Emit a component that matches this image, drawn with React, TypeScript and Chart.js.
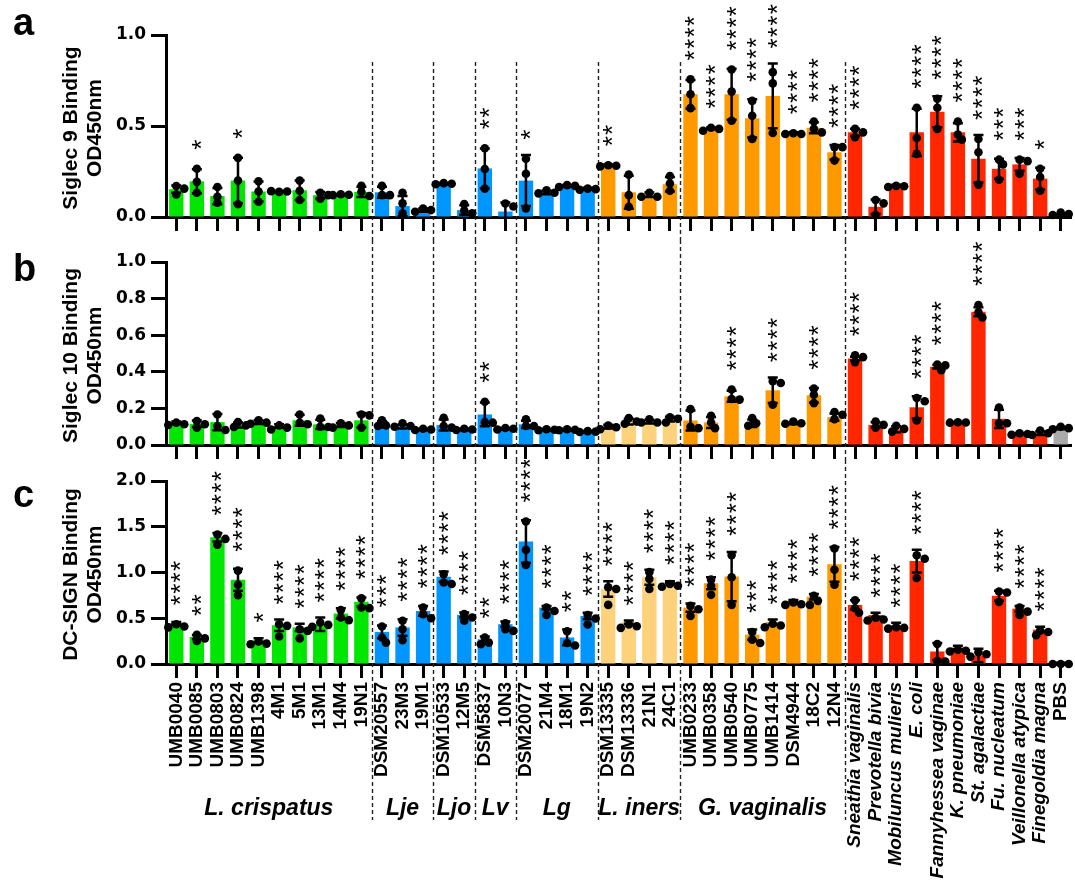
import React, { useEffect, useRef } from 'react';
import { Chart, registerables } from 'chart.js';

Chart.register(...registerables);

const FONT = '"Liberation Sans", Arial, Helvetica, sans-serif';
const TICK_FONT = '"DejaVu Sans", Verdana, sans-serif';

// ---------------- DATA ----------------
const categories = [
  'UMB0040', 'UMB0085', 'UMB0803', 'UMB0824', 'UMB1398', '4M1', '5M1', '13M1', '14M4', '19N1',
  'DSM20557', '23M3', '19M1',
  'DSM10533', '12M5',
  'DSM5837', '10N3',
  'DSM20077', '21M4', '18M1', '19N2',
  'DSM13335', 'DSM13336', '21N1', '24C1',
  'UMB0233', 'UMB0358', 'UMB0540', 'UMB0775', 'UMB1414', 'DSM4944', '18C2', '12N4',
  'Sneathia vaginalis', 'Prevotella bivia', 'Mobiluncus mulieris', 'E. coli', 'Fannyhessea vaginae',
  'K. pneumoniae', 'St. agalactiae', 'Fu. nucleatum', 'Veillonella atypica', 'Finegoldia magna', 'PBS',
];

const categoryGroup = [
  'crisp', 'crisp', 'crisp', 'crisp', 'crisp', 'crisp', 'crisp', 'crisp', 'crisp', 'crisp',
  'lje', 'lje', 'lje',
  'ljo', 'ljo',
  'lv', 'lv',
  'lg', 'lg', 'lg', 'lg',
  'iners', 'iners', 'iners', 'iners',
  'gv', 'gv', 'gv', 'gv', 'gv', 'gv', 'gv', 'gv',
  'other', 'other', 'other', 'other', 'other', 'other', 'other', 'other', 'other', 'other', 'pbs',
];

const groupLabels: Record<string, string> = {
  crisp: 'L. crispatus', lje: 'Lje', ljo: 'Ljo', lv: 'Lv', lg: 'Lg', iners: 'L. iners', gv: 'G. vaginalis',
};

// Panel a: Siglec 9
const siglec9Mean = [
  0.153, 0.196, 0.115, 0.2, 0.14, 0.14, 0.147, 0.12, 0.122, 0.138,
  0.136, 0.06, 0.038, 0.183, 0.038, 0.267, 0.03, 0.2,
  0.135, 0.171, 0.157, 0.285, 0.136, 0.122, 0.18,
  0.674, 0.487, 0.674, 0.542, 0.665, 0.462, 0.49, 0.356,
  0.465, 0.056, 0.173, 0.465, 0.578, 0.465, 0.32, 0.265, 0.289, 0.211, 0.012,
];
const siglec9Sd = [
  0.02, 0.066, 0.045, 0.125, 0.055, 0.003, 0.053, 0.018, 0.004, 0.028,
  0.03, 0.056, 0.009, 0.004, 0.026, 0.11, 0.05, 0.14,
  0.01, 0.005, 0.004, 0.004, 0.09, 0.012, 0.04,
  0.079, 0.005, 0.14, 0.105, 0.178, 0.003, 0.03, 0.04,
  0.02, 0.04, 0.004, 0.13, 0.085, 0.05, 0.13, 0.055, 0.035, 0.06, 0.005,
];
const siglec9Points = [
  [0.17, 0.156, 0.124], [0.265, 0.193, 0.133], [0.165, 0.111, 0.078], [0.325, 0.2, 0.07], [0.196, 0.14, 0.084],
  [0.138, 0.14, 0.142], [0.2, 0.144, 0.093], [0.133, 0.12, 0.1], [0.125, 0.122, 0.12], [0.171, 0.138, 0.115],
  [0.171, 0.12, 0.12], [0.133, 0.075, 0.02], [0.047, 0.038, 0.029],
  [0.186, 0.183, 0.18], [0.071, 0.035, 0.02],
  [0.378, 0.264, 0.156], [0.074, 0.058, null],
  [0.32, 0.238, 0.047], [0.147, 0.133, 0.13], [0.175, 0.171, 0.165], [0.156, 0.153, 0.15],
  [0.284, 0.282, 0.278], [0.233, 0.12, 0.056], [0.133, 0.111, 0.111], [0.225, 0.184, 0.144],
  [0.756, 0.674, 0.598], [0.49, 0.484, 0.474], [0.81, 0.689, 0.529], [0.638, 0.556, 0.429],
  [0.796, 0.734, 0.462], [0.46, 0.456, 0.456], [0.525, 0.484, 0.465], [0.384, 0.384, 0.31],
  [0.484, 0.465, 0.438], [0.093, 0.075, 0.011], [0.171, 0.169, 0.165], [0.6, 0.434, 0.347],
  [0.65, 0.6, 0.484], [0.525, 0.453, 0.425], [0.429, 0.356, 0.178], [0.315, 0.289, 0.205],
  [0.315, 0.307, 0.238], [0.265, 0.22, 0.144], [0.024, 0.016, 0.011],
];
const siglec9Stars = [
  0, 1, 0, 1, 0, 0, 0, 0, 0, 0,
  0, 0, 0, 0, 0, 2, 0, 1,
  0, 0, 0, 2, 0, 0, 0,
  4, 4, 4, 4, 4, 4, 4, 4,
  4, 0, 0, 4, 4, 4, 4, 3, 3, 1, 0,
];

// Panel b: Siglec 10
const siglec10Mean = [
  0.122, 0.116, 0.125, 0.109, 0.125, 0.104, 0.135, 0.113, 0.109, 0.135,
  0.113, 0.1, 0.085, 0.109, 0.085, 0.167, 0.089, 0.113,
  0.083, 0.083, 0.073, 0.1, 0.128, 0.128, 0.141,
  0.134, 0.123, 0.266, 0.119, 0.299, 0.119, 0.272, 0.152,
  0.472, 0.11, 0.086, 0.206, 0.428, 0.123, 0.728, 0.143, 0.061, 0.064, 0.092,
];
const siglec10Sd = [
  0.007, 0.018, 0.045, 0.014, 0.01, 0.01, 0.03, 0.025, 0.011, 0.04,
  0.017, 0.01, 0.004, 0.03, 0.004, 0.065, 0.004, 0.02,
  0.004, 0.004, 0.004, 0.01, 0.016, 0.01, 0.013,
  0.055, 0.03, 0.03, 0.02, 0.07, 0.006, 0.04, 0.02,
  0.01, 0.015, 0.016, 0.06, 0.01, 0.003, 0.025, 0.05, 0.004, 0.01, 0.006,
];
const siglec10Points = [
  [0.122, 0.113, 0.109], [0.131, 0.113, 0.095], [0.167, 0.104, 0.082], [0.125, 0.107, 0.098], [0.135, 0.122, 0.116],
  [0.107, 0.095, 0.085], [0.167, 0.122, 0.113], [0.144, 0.1, 0.098], [0.118, 0.107, 0.095], [0.167, 0.162, 0.095],
  [0.135, 0.107, 0.104], [0.118, 0.104, 0.1], [0.089, 0.085, 0.082],
  [0.149, 0.104, 0.095], [0.089, 0.085, 0.082],
  [0.236, 0.125, 0.122], [0.093, 0.089, 0.085],
  [0.14, 0.104, 0.104], [0.086, 0.083, 0.081], [0.086, 0.083, 0.081], [0.076, 0.073, 0.071],
  [0.106, 0.097, 0.086], [0.147, 0.128, 0.116], [0.141, 0.123, 0.123], [0.152, 0.143, 0.123],
  [0.196, 0.1, 0.092], [0.16, 0.123, 0.092], [0.303, 0.251, 0.248], [0.147, 0.119, 0.105],
  [0.349, 0.339, 0.22], [0.128, 0.119, 0.116], [0.308, 0.275, 0.229], [0.18, 0.165, 0.141],
  [0.49, 0.48, 0.453], [0.128, 0.11, 0.095], [0.105, 0.088, 0.073], [0.257, 0.239, 0.134],
  [0.44, 0.435, 0.409], [0.124, 0.123, 0.122], [0.765, 0.725, 0.697], [0.205, 0.119, 0.119],
  [0.064, 0.06, 0.056], [0.079, 0.064, 0.055], [0.1, 0.092, 0.086],
];
const siglec10Stars = [
  0, 0, 0, 0, 0, 0, 0, 0, 0, 0,
  0, 0, 0, 0, 0, 2, 0, 0,
  0, 0, 0, 0, 0, 0, 0,
  0, 0, 4, 0, 4, 0, 4, 0,
  4, 0, 0, 4, 4, 0, 4, 0, 0, 0, 0,
];

// Panel c: DC-SIGN
const dcsignMean = [
  0.446, 0.296, 1.386, 0.92, 0.26, 0.424, 0.4, 0.435, 0.552, 0.68,
  0.351, 0.4, 0.58, 0.954, 0.537, 0.27, 0.435, 1.338,
  0.616, 0.29, 0.524, 0.819, 0.458, 0.948, 0.893,
  0.616, 0.882, 0.956, 0.321, 0.458, 0.69, 0.734, 1.089,
  0.646, 0.535, 0.424, 1.125, 0.137, 0.18, 0.092, 0.745, 0.605, 0.376, 0.01,
];
const dcsignSd = [
  0.014, 0.022, 0.047, 0.12, 0.022, 0.062, 0.04, 0.073, 0.058, 0.048,
  0.07, 0.09, 0.053, 0.056, 0.026, 0.03, 0.029, 0.232,
  0.019, 0.086, 0.036, 0.085, 0.018, 0.082, 0.011,
  0.044, 0.066, 0.269, 0.055, 0.029, 0.01, 0.03, 0.191,
  0.051, 0.025, 0.026, 0.125, 0.092, 0.02, 0.074, 0.055, 0.03, 0.03, 0.003,
];
const dcsignPoints = [
  [0.435, 0.41, 0.4], [0.318, 0.28, 0.252], [1.415, 1.367, 1.305], [1.02, 0.867, 0.753], [0.245, 0.223, 0.216],
  [0.435, 0.417, 0.3], [0.38, 0.362, 0.28], [0.453, 0.428, 0.406], [0.589, 0.508, 0.479], [0.717, 0.618, 0.611],
  [0.41, 0.289, 0.234], [0.472, 0.38, 0.26], [0.618, 0.545, 0.5],
  [0.98, 0.89, 0.874], [0.545, 0.508, 0.472],
  [0.289, 0.234, 0.216], [0.446, 0.38, 0.362],
  [1.557, 1.247, 1.082], [0.616, 0.58, 0.535], [0.358, 0.229, 0.203], [0.535, 0.498, 0.432],
  [0.838, 0.819, 0.646], [0.432, 0.413, 0.395], [1.004, 0.93, 0.819], [0.875, 0.856, 0.845],
  [0.635, 0.598, 0.524], [0.922, 0.856, 0.756], [1.19, 0.948, 0.646], [0.35, 0.266, 0.229],
  [0.44, 0.42, 0.402], [0.672, 0.653, 0.646], [0.745, 0.69, 0.646], [1.262, 1.03, 0.867],
  [0.697, 0.609, 0.56], [0.505, 0.487, 0.476], [0.402, 0.395, 0.387], [1.188, 1.15, 0.94],
  [0.218, 0.033, 0.026], [0.155, 0.144, 0.137], [0.129, 0.107, 0.081], [0.793, 0.782, 0.679],
  [0.616, 0.572, 0.535], [0.365, 0.35, 0.314], [0.0, 0.0, 0.0],
];
const dcsignStars = [
  4, 2, 4, 4, 1, 4, 4, 4, 4, 4,
  3, 4, 4, 4, 4, 2, 4, 4,
  4, 2, 4, 4, 4, 4, 4,
  4, 4, 4, 3, 4, 4, 4, 4,
  4, 4, 4, 4, 0, 0, 0, 4, 4, 4, 0,
];

// ---------------- STYLE ----------------
const GREEN = '#00e600';
const BLUE = '#0096ff';
const ORANGE = '#ff9900';
const LIGHT = '#fdd27a';
const RED = '#ff2600';
const GRAY = '#aaaaaa';

const paletteA: Record<string, string> = {
  crisp: GREEN, lje: BLUE, ljo: BLUE, lv: BLUE, lg: BLUE, iners: ORANGE, gv: ORANGE, other: RED, pbs: GRAY,
};
const paletteBC: Record<string, string> = { ...paletteA, iners: LIGHT };

type PanelCfg = {
  id: string;
  letter: string;
  letterY: number;
  title: string[];
  max: number;
  step: number;
  means: number[];
  sd: number[];
  points: (number | null)[][];
  stars: number[];
  palette: Record<string, string>;
  top: number;
  height: number;
  areaTop: number;
  areaBottom: number;
  showLabels: boolean;
  dashTop: number;
  dashBottom: number;
};

const panels: PanelCfg[] = [
  {
    id: 'a', letter: 'a', letterY: 35, title: ['Siglec 9 Binding', 'OD450nm'], max: 1, step: 0.5,
    means: siglec9Mean, sd: siglec9Sd, points: siglec9Points, stars: siglec9Stars, palette: paletteA,
    top: 0, height: 240, areaTop: 35, areaBottom: 217, showLabels: false, dashTop: 62, dashBottom: 240,
  },
  {
    id: 'b', letter: 'b', letterY: 41, title: ['Siglec 10 Binding', 'OD450nm'], max: 1, step: 0.2,
    means: siglec10Mean, sd: siglec10Sd, points: siglec10Points, stars: siglec10Stars, palette: paletteBC,
    top: 240, height: 220, areaTop: 22, areaBottom: 205, showLabels: false, dashTop: 0, dashBottom: 220,
  },
  {
    id: 'c', letter: 'c', letterY: 47, title: ['DC-SIGN Binding', 'OD450nm'], max: 2, step: 0.5,
    means: dcsignMean, sd: dcsignSd, points: dcsignPoints, stars: dcsignStars, palette: paletteBC,
    top: 460, height: 429, areaTop: 21, areaBottom: 204, showLabels: true, dashTop: 0, dashBottom: 360,
  },
];

const LEFT_W = 166;
const RIGHT_PAD = 4;

function jitter(ys: (number | null)[]): number[] {
  const placed: { x: number; y: number }[] = [];
  const cands = [0, 4, -4, 8, -8];
  return ys.map((y) => {
    if (y === null) return 0;
    for (const dx of cands) {
      if (placed.every((p) => Math.hypot(p.x - dx, p.y - y) >= 6)) {
        placed.push({ x: dx, y });
        return dx;
      }
    }
    placed.push({ x: 0, y });
    return 0;
  });
}

function drawStar(ctx: CanvasRenderingContext2D, cx: number, cy: number) {
  ctx.save();
  ctx.translate(cx, cy);
  ctx.rotate(-Math.PI / 2);
  ctx.textAlign = 'left';
  ctx.textBaseline = 'alphabetic';
  const m = ctx.measureText('*');
  const ox = (m.actualBoundingBoxRight - m.actualBoundingBoxLeft) / 2;
  const oy = (m.actualBoundingBoxDescent - m.actualBoundingBoxAscent) / 2;
  ctx.fillText('*', -ox, -oy);
  ctx.restore();
}

function buildConfig(p: PanelCfg): any {
  const decor = {
    id: 'decor' + p.id,
    beforeDatasetsDraw(chart: any) {
      const ctx = chart.ctx as CanvasRenderingContext2D;
      const x = chart.scales.x;
      ctx.save();
      ctx.strokeStyle = '#222';
      ctx.lineWidth = 1.4;
      ctx.setLineDash([4, 3]);
      for (let i = 0; i < categories.length - 1; i++) {
        const g1 = categoryGroup[i];
        const g2 = categoryGroup[i + 1];
        if (g1 === g2) continue;
        if (g1 === 'other' && g2 === 'pbs') continue;
        const bx = Math.round((x.getPixelForValue(i) + x.getPixelForValue(i + 1)) / 2) + 0.5;
        ctx.beginPath();
        ctx.moveTo(bx, p.dashTop);
        ctx.lineTo(bx, p.dashBottom);
        ctx.stroke();
      }
      ctx.restore();
    },
    afterDatasetsDraw(chart: any) {
      const ctx = chart.ctx as CanvasRenderingContext2D;
      const x = chart.scales.x;
      const y = chart.scales.y;
      ctx.save();
      // error bars
      ctx.strokeStyle = '#000';
      ctx.lineWidth = 2.5;
      ctx.setLineDash([]);
      for (let i = 0; i < categories.length; i++) {
        const cx = x.getPixelForValue(i);
        const lo = y.getPixelForValue(Math.max(0, p.means[i] - p.sd[i]));
        const hi = y.getPixelForValue(p.means[i] + p.sd[i]);
        ctx.beginPath();
        ctx.moveTo(cx, lo);
        ctx.lineTo(cx, hi);
        ctx.moveTo(cx - 5, hi);
        ctx.lineTo(cx + 5, hi);
        if (p.means[i] - p.sd[i] > 0) {
          ctx.moveTo(cx - 5, lo);
          ctx.lineTo(cx + 5, lo);
        }
        ctx.stroke();
      }
      // replicate points
      ctx.fillStyle = '#000';
      const tops: number[] = [];
      for (let i = 0; i < categories.length; i++) {
        const cx = x.getPixelForValue(i);
        const ys = p.points[i].map((v) => (v === null ? null : y.getPixelForValue(v)));
        const dxs = jitter(ys);
        let top = y.getPixelForValue(p.means[i] + p.sd[i]);
        ys.forEach((py, k) => {
          if (py === null) return;
          ctx.beginPath();
          ctx.arc(cx + dxs[k], py, 4.3, 0, Math.PI * 2);
          ctx.fill();
          top = Math.min(top, py - 4);
        });
        tops.push(top);
      }
      // significance stars
      ctx.font = `26px ${FONT}`;
      for (let i = 0; i < categories.length; i++) {
        const n = p.stars[i];
        if (!n) continue;
        const cx = x.getPixelForValue(i);
        const base = tops[i] - 20;
        for (let k = 0; k < n; k++) drawStar(ctx, cx, base - k * 11.4);
      }
      ctx.restore();
    },
    afterDraw(chart: any) {
      const ctx = chart.ctx as CanvasRenderingContext2D;
      const x = chart.scales.x;
      const area = chart.chartArea;
      ctx.save();
      ctx.fillStyle = '#000';
      // panel letter
      ctx.font = `bold 38px ${FONT}`;
      ctx.textAlign = 'left';
      ctx.textBaseline = 'alphabetic';
      ctx.fillText(p.letter, 13, p.letterY);
      // y title (two lines, rotated)
      ctx.font = `bold 21px ${FONT}`;
      const cy = (area.top + area.bottom) / 2 + 2;
      const baselines = [77, 101];
      p.title.forEach((line, k) => {
        ctx.save();
        ctx.translate(baselines[k], cy);
        ctx.rotate(-Math.PI / 2);
        ctx.textAlign = 'center';
        ctx.fillText(line, 0, 0);
        ctx.restore();
      });
      // group labels
      if (p.showLabels) {
        ctx.font = `italic bold 23px ${FONT}`;
        ctx.textAlign = 'center';
        const seen: Record<string, number[]> = {};
        categoryGroup.forEach((g, i) => {
          if (!groupLabels[g]) return;
          if (!seen[g]) seen[g] = [i, i];
          seen[g][1] = i;
        });
        Object.keys(seen).forEach((g) => {
          const [a, b] = seen[g];
          const gx = (x.getPixelForValue(a) + x.getPixelForValue(b)) / 2;
          ctx.fillText(groupLabels[g], gx, 355);
        });
      }
      ctx.restore();
    },
  };

  return {
    type: 'bar',
    data: {
      labels: categories,
      datasets: [
        {
          data: p.means,
          backgroundColor: categoryGroup.map((g) => p.palette[g]),
          borderWidth: 0,
          barPercentage: 0.7,
          categoryPercentage: 1.0,
        },
      ],
    },
    options: {
      responsive: false,
      animation: false,
      events: [],
      layout: { padding: { top: p.areaTop, left: 0, right: RIGHT_PAD, bottom: 0 } },
      plugins: { legend: { display: false }, tooltip: { enabled: false }, title: { display: false } },
      scales: {
        x: {
          type: 'category',
          offset: true,
          grid: {
            display: true,
            offset: false,
            drawOnChartArea: false,
            drawTicks: true,
            tickLength: 14,
            tickWidth: 3,
            tickColor: '#000',
          },
          border: { display: true, color: '#000', width: 3 },
          ticks: {
            display: p.showLabels,
            autoSkip: false,
            minRotation: 90,
            maxRotation: 90,
            padding: 4,
            color: '#000',
            font: (c: any) => ({
              family: FONT,
              size: 19,
              weight: 'bold',
              style: categoryGroup[c.index] === 'other' ? 'italic' : 'normal',
            }),
          },
          afterFit: (s: any) => {
            s.height = p.height - p.areaBottom;
            s.paddingLeft = 0;
            s.paddingRight = 0;
          },
        },
        y: {
          type: 'linear',
          min: 0,
          max: p.max,
          grid: {
            display: true,
            drawOnChartArea: false,
            drawTicks: true,
            tickLength: 15,
            tickWidth: 3,
            tickColor: '#000',
          },
          border: { display: true, color: '#000', width: 3 },
          ticks: {
            stepSize: p.step,
            padding: 5,
            color: '#000',
            font: { family: TICK_FONT, size: 17, weight: 'bold' },
            callback: (v: any) => Number(v).toFixed(1),
          },
          afterFit: (s: any) => {
            s.width = LEFT_W;
            s.paddingTop = 0;
            s.paddingBottom = 0;
          },
        },
      },
    },
    plugins: [decor],
  };
}

function Panel({ cfg }: { cfg: PanelCfg }) {
  const ref = useRef<HTMLCanvasElement>(null);
  useEffect(() => {
    if (!ref.current) return;
    const chart = new Chart(ref.current, buildConfig(cfg));
    return () => chart.destroy();
  }, [cfg]);
  return (
    <canvas
      ref={ref}
      width={1075}
      height={cfg.height}
      style={{ position: 'absolute', left: 0, top: cfg.top, width: 1075, height: cfg.height, display: 'block' }}
    />
  );
}

export default function App() {
  return (
    <div style={{ position: 'absolute', left: 0, top: 0, width: 1075, height: 889, background: '#fff', overflow: 'hidden' }}>
      {panels.map((p) => (
        <Panel key={p.id} cfg={p} />
      ))}
    </div>
  );
}
